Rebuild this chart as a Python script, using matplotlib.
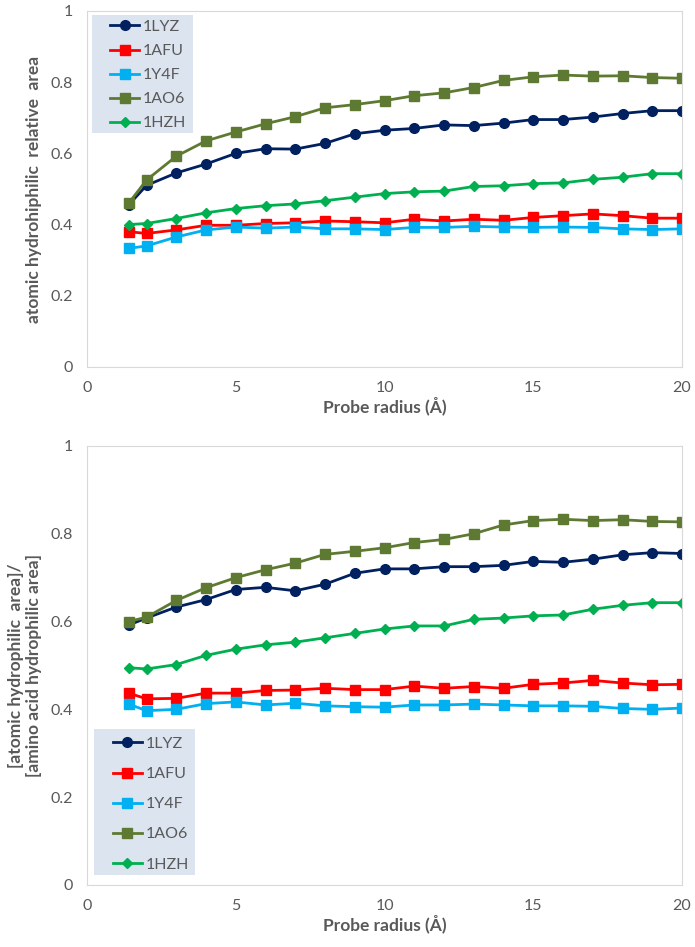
from matplotlib import pyplot as plt
from matplotlib.patches import Rectangle

x = [1.4, 2, 3, 4, 5, 6, 7, 8, 9, 10, 11, 12, 13, 14, 15, 16, 17, 18, 19, 20]
labels = ['1LYZ', '1AFU', '1Y4F', '1AO6', '1HZH']

# top panel: atomic hydrophilic relative area
top_1lyz = [0.455, 0.51, 0.545, 0.57, 0.60, 0.613, 0.612, 0.628, 0.655, 0.665,
            0.67, 0.68, 0.678, 0.685, 0.695, 0.695, 0.702, 0.712, 0.72, 0.72]
top_1afu = [0.38, 0.375, 0.385, 0.398, 0.398, 0.403, 0.405, 0.41, 0.408, 0.405,
            0.415, 0.41, 0.415, 0.412, 0.42, 0.425, 0.43, 0.425, 0.418, 0.418]
top_1y4f = [0.333, 0.34, 0.365, 0.385, 0.393, 0.39, 0.393, 0.388, 0.388, 0.386,
            0.392, 0.392, 0.395, 0.393, 0.392, 0.393, 0.392, 0.388, 0.386, 0.388]
top_1ao6 = [0.46, 0.525, 0.592, 0.635, 0.66, 0.683, 0.703, 0.728, 0.737, 0.748,
            0.762, 0.77, 0.785, 0.805, 0.815, 0.82, 0.817, 0.818, 0.813, 0.811]
top_1hzh = [0.40, 0.403, 0.417, 0.433, 0.445, 0.453, 0.458, 0.467, 0.477, 0.487,
            0.492, 0.494, 0.507, 0.509, 0.515, 0.517, 0.527, 0.533, 0.543, 0.543]

# bottom panel: atomic / amino acid hydrophilic area
bot_1lyz = [0.592, 0.608, 0.633, 0.65, 0.673, 0.678, 0.67, 0.685, 0.71, 0.72,
            0.72, 0.725, 0.725, 0.728, 0.737, 0.735, 0.742, 0.752, 0.757, 0.755]
bot_1afu = [0.437, 0.424, 0.425, 0.437, 0.437, 0.443, 0.444, 0.448, 0.445, 0.445,
            0.453, 0.448, 0.452, 0.448, 0.457, 0.46, 0.466, 0.46, 0.456, 0.457]
bot_1y4f = [0.412, 0.397, 0.400, 0.413, 0.417, 0.41, 0.414, 0.408, 0.406, 0.405,
            0.41, 0.41, 0.412, 0.41, 0.408, 0.408, 0.407, 0.402, 0.4, 0.403]
bot_1ao6 = [0.60, 0.61, 0.648, 0.677, 0.70, 0.718, 0.733, 0.753, 0.76, 0.768,
            0.78, 0.787, 0.8, 0.82, 0.83, 0.833, 0.83, 0.832, 0.828, 0.827]
bot_1hzh = [0.495, 0.492, 0.502, 0.523, 0.537, 0.547, 0.553, 0.563, 0.573, 0.583,
            0.59, 0.59, 0.605, 0.608, 0.613, 0.615, 0.628, 0.637, 0.643, 0.643]

colors = ['#002060', '#FF0000', '#00B0F0', '#5E7A32', '#00B050']
markers = ['o', 's', 's', 's', 'D']
msizes = [7, 7, 7, 7, 5]
text_color = '#595959'
legend_bg = '#DCE4F0'

plt.rcParams['font.family'] = ['Lato', 'DejaVu Sans']

fig = plt.figure(figsize=(6.95, 9.47), dpi=100)
ax1 = fig.add_axes([0.1252, 0.6125, 0.8561, 0.3759])
ax2 = fig.add_axes([0.1252, 0.0655, 0.8561, 0.4636])


def draw(ax, series, ylabel, box, anchor, spacing):
    for vals, lab, c, m, ms in zip(series, labels, colors, markers, msizes):
        ax.plot(x, vals, color=c, marker=m, markersize=ms, linewidth=2, label=lab)
    ax.set_xlim(0, 20)
    ax.set_ylim(0, 1)
    ax.set_xticks([0, 5, 10, 15, 20])
    ax.set_yticks([0, 0.2, 0.4, 0.6, 0.8, 1])
    ax.set_yticklabels(['0', '0.2', '0.4', '0.6', '0.8', '1'])
    ax.tick_params(length=0, labelsize=11.5, colors=text_color, pad=10)
    for s in ax.spines.values():
        s.set_color('#D9D9D9')
    ax.set_xlabel('Probe radius (Å)', fontsize=12.5, fontweight='bold',
                  color=text_color, labelpad=1)
    ax.set_ylabel(ylabel, fontsize=12.5, fontweight='bold', color=text_color,
                  labelpad=6)
    # legend background box (figure fraction), under the legend but over the lines
    ax.add_patch(Rectangle(box[:2], box[2], box[3], transform=fig.transFigure,
                           facecolor=legend_bg, edgecolor='none', zorder=4,
                           clip_on=False))
    leg = ax.legend(loc='upper left', bbox_to_anchor=anchor,
                    bbox_transform=fig.transFigure, fontsize=11.5, frameon=False,
                    labelspacing=spacing, handlelength=1.85, handletextpad=0.2,
                    borderpad=0, borderaxespad=0)
    leg.set_zorder(6)
    for t in leg.get_texts():
        t.set_color(text_color)


draw(ax1, [top_1lyz, top_1afu, top_1y4f, top_1ao6, top_1hzh],
     'atomic hydrohiphilic  relative  area',
     (0.1324, 0.8596, 0.1453, 0.1246), (0.158, 0.979), 0.62)
draw(ax2, [bot_1lyz, bot_1afu, bot_1y4f, bot_1ao6, bot_1hzh],
     '[atomic hydrophilic  area]/\n[amino acid hydrophilic area]',
     (0.1353, 0.076, 0.1453, 0.1542), (0.162, 0.222), 1.0)

plt.savefig('out.png', dpi=100)
